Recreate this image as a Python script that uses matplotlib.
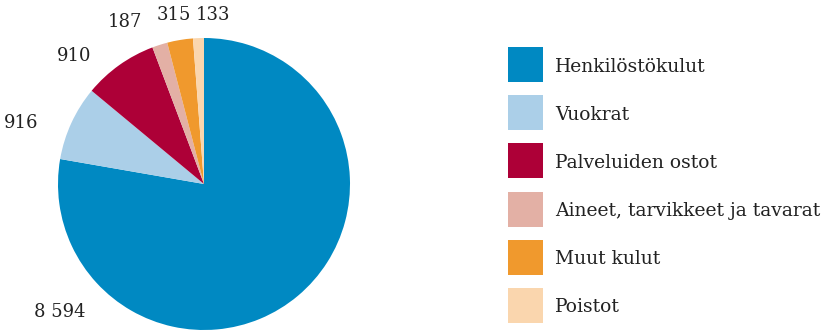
import numpy as np
import matplotlib.pyplot as plt
from matplotlib.patches import Rectangle

categories = ['Henkilöstökulut', 'Vuokrat', 'Palveluiden ostot',
              'Aineet, tarvikkeet ja tavarat', 'Muut kulut', 'Poistot']
values = [8594, 916, 910, 187, 315, 133]
value_labels = ['8 594', '916', '910', '187', '315', '133']
colors = ['#0089c2', '#abcfe8', '#ad0037', '#e3b0a5', '#f0992d', '#fad6ae']

# label positions in pie units (radius 1), placed like the original
label_pos = [(-0.99, -0.875), (-1.25, 0.42), (-0.89, 0.88),
             (-0.54, 1.11), (-0.21, 1.16), (0.065, 1.16)]

plt.rcParams['font.family'] = 'DejaVu Serif'

W, H = 822, 330
fig = plt.figure(figsize=(W / 100, H / 100), dpi=100)
cx, cy, r = 204, 184, 146
ax = fig.add_axes([(cx - r) / W, (H - cy - r) / H, 2 * r / W, 2 * r / H])
ax.pie(values, colors=colors, startangle=90, counterclock=False, radius=1,
       wedgeprops=dict(linewidth=0))
ax.set_xlim(-1, 1)
ax.set_ylim(-1, 1)
ax.set_aspect('equal')
ax.axis('off')

for (x, y), t in zip(label_pos, value_labels):
    ax.text(x, y, t, ha='center', va='center', fontsize=13, color='#222222',
            clip_on=False)

# legend drawn by hand: 35px squares, 48px row step
lx, ly, sz, step = 508, 47, 35, 48.2
for i, (c, name) in enumerate(zip(colors, categories)):
    top = ly + i * step
    fig.patches.append(Rectangle((lx / W, 1 - (top + sz) / H), sz / W, sz / H,
                                 transform=fig.transFigure, facecolor=c,
                                 edgecolor='none'))
    fig.text(555 / W, 1 - (top + sz / 2) / H, name, ha='left', va='center_baseline',
             fontsize=13.5, color='#222222')

fig.savefig('out.png', dpi=100)
